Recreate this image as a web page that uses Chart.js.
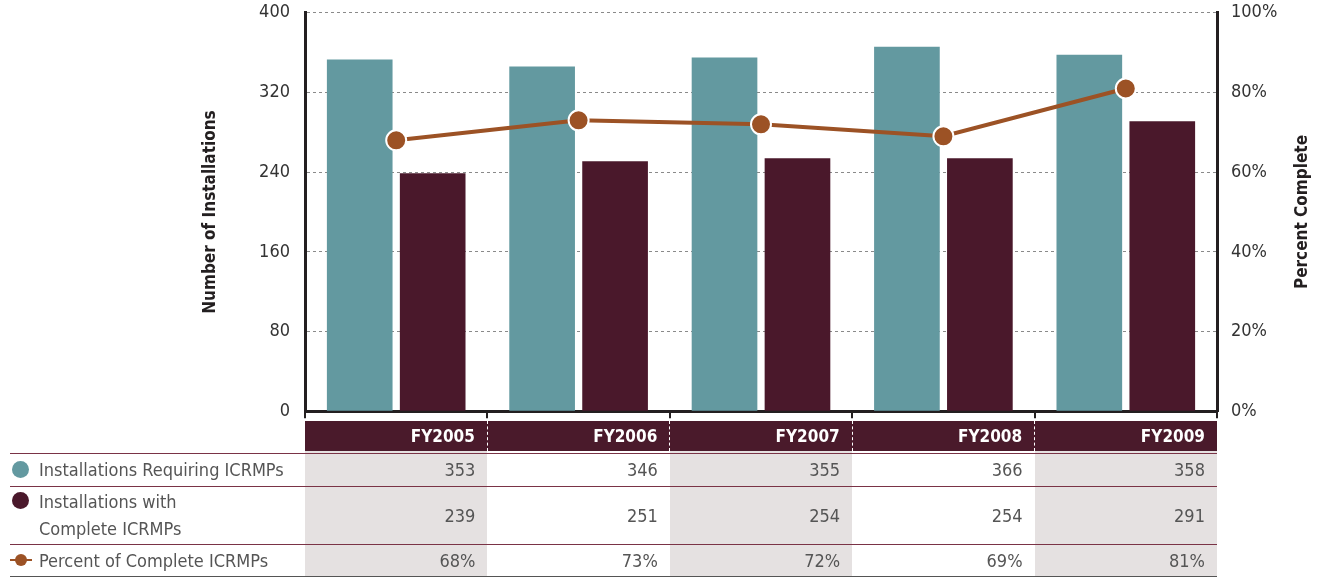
<!DOCTYPE html>
<html>
<head>
<meta charset="utf-8">
<script src="https://cdn.jsdelivr.net/npm/chart.js@4.4.1/dist/chart.umd.min.js"></script>
<style>
  body { margin: 0; background: #fff; overflow: hidden; }
  #wrap { position: relative; width: 1320px; height: 578px; overflow: hidden; font-family: "Liberation Sans Narrow", "DejaVu Sans Condensed", "Roboto", sans-serif; }
  #c { position: absolute; left: 0; top: -13px; }
  #tbl { position: absolute; left: 10px; top: 420px; border-collapse: collapse; table-layout: fixed; font-size: 18px; color: #555; }
  #tbl td, #tbl th { padding: 0 12px 0 0; text-align: right; box-sizing: border-box; }
  #tbl th { height: 30px; background: #4a1a2b; color: #fff; font-weight: bold; font-size: 17px; border-right: 1px dashed #fff; }
  #tbl th.blank { background: transparent; border-right: none; }
  #tbl th.last { border-right: none; }
  #tbl tr.r td { border-top: 1px solid #7a3346; }
  #tbl tr.sp td { height: 2px; }
  #tbl td.lab { text-align: left; padding: 0; }
  #tbl td.sh { background: #e5e1e1; }
  #tbl tr.last td { border-bottom: 1px solid #555; }
  .lab div { display: flex; align-items: center; }
  .dot { display: inline-block; width: 17px; height: 17px; border-radius: 50%; margin: 0 10px 0 2px; flex: none; }
  .ln { position: relative; display: inline-block; width: 22px; height: 14px; margin: 0 7px 0 0; flex: none; }
  .ln:before { content: ""; position: absolute; left: 0; right: 0; top: 6px; border-top: 2px dashed #9c5225; }
  .ln:after { content: ""; position: absolute; left: 5px; top: 1px; width: 12px; height: 12px; border-radius: 50%; background: #9c5225; }
</style>
</head>
<body>
<div id="wrap">
<canvas id="c" width="1320" height="450"></canvas>
<table id="tbl"></table>
</div>
<script>
var years = ["FY2005", "FY2006", "FY2007", "FY2008", "FY2009"];
var requiring = [353, 346, 355, 366, 358];
var complete = [239, 251, 254, 254, 291];
var percent = [68, 73, 72, 69, 81];

var labelRequiring = "Installations Requiring ICRMPs";
var labelComplete = ["Installations with", "Complete ICRMPs"];
var labelPercent = "Percent of Complete ICRMPs";

var teal = "#6399a0";
var maroon = "#4a182b";
var brown = "#9c5225";
var fontFam = '"Liberation Sans Narrow", "DejaVu Sans Condensed", Roboto, sans-serif';
var canvasShift = -13; // canvas is moved up so the plot top sits at y=12

// right axis title reads bottom-to-top, so draw it by hand
var rightTitle = {
  id: "rightTitle",
  afterDraw: function(chart) {
    var ctx = chart.ctx;
    var a = chart.chartArea;
    ctx.save();
    ctx.translate(1303, (a.top + a.bottom) / 2);
    ctx.rotate(-Math.PI / 2);
    ctx.font = "bold 17px " + fontFam;
    ctx.fillStyle = "#231f20";
    ctx.textAlign = "center";
    ctx.textBaseline = "middle";
    ctx.fillText("Percent Complete", 0, 0);
    ctx.restore();
  }
};

var canvas = document.getElementById("c");
var chart = new Chart(canvas, {
  type: "bar",
  data: {
    labels: years,
    datasets: [
      {
        type: "line",
        label: labelPercent,
        data: percent,
        yAxisID: "y1",
        borderColor: brown,
        borderWidth: 4,
        backgroundColor: brown,
        pointRadius: 10,
        pointBorderColor: "#fff",
        pointBorderWidth: 2,
        pointBackgroundColor: brown,
        tension: 0,
        fill: false,
        order: 0
      },
      {
        label: labelRequiring,
        data: requiring,
        backgroundColor: teal,
        categoryPercentage: 0.8,
        barPercentage: 0.9,
        order: 1
      },
      {
        label: labelComplete.join(" "),
        data: complete,
        backgroundColor: maroon,
        categoryPercentage: 0.8,
        barPercentage: 0.9,
        order: 1
      }
    ]
  },
  options: {
    responsive: false,
    animation: false,
    layout: { padding: { left: 0, right: 0, top: 0, bottom: 0 } },
    plugins: { legend: { display: false }, tooltip: { enabled: false } },
    scales: {
      x: {
        ticks: { display: false },
        grid: { offset: true, drawOnChartArea: false, drawTicks: true, tickLength: 7, color: "#231f20", lineWidth: 2 },
        border: { color: "#231f20", width: 3 },
        afterFit: function(s) { s.height = 10; }
      },
      y: {
        position: "left",
        min: 0,
        max: 400,
        ticks: { stepSize: 80, padding: 15, color: "#333", font: { family: fontFam, size: 18 } },
        grid: { color: "#8a8a8a", lineWidth: 1, drawTicks: false },
        border: { color: "#231f20", width: 3, dash: [3, 3] },
        title: {
          display: true,
          text: "Number of Installations",
          color: "#231f20",
          font: { family: fontFam, size: 17, weight: "bold" },
          padding: { top: 200, bottom: 0 }
        },
        afterFit: function(s) { s.width = 305; }
      },
      y1: {
        position: "right",
        min: 0,
        max: 100,
        ticks: { stepSize: 20, padding: 14, color: "#333", font: { family: fontFam, size: 18 },
          callback: function(v) { return v + "%"; } },
        grid: { drawOnChartArea: false, drawTicks: false },
        border: { color: "#231f20", width: 3 },
        afterFit: function(s) { s.width = 103; }
      }
    }
  },
  plugins: [rightTitle]
});

// data table under the chart, columns follow the x scale
function buildTable() {
  var area = chart.chartArea;
  var colW = (area.right - area.left) / years.length;
  var tbl = document.getElementById("tbl");
  tbl.style.top = (area.bottom + canvasShift + 10) + "px";
  var html = "<colgroup><col style='width:" + (area.left - 10) + "px'>";
  for (var i = 0; i < years.length; i++) html += "<col style='width:" + colW + "px'>";
  html += "</colgroup>";
  html += "<tr><th class='blank'></th>";
  for (var i = 0; i < years.length; i++) {
    html += "<th" + (i == years.length - 1 ? " class='last'" : "") + ">" + years[i] + "</th>";
  }
  html += "</tr><tr class='sp'><td></td>";
  for (var i = 0; i < years.length; i++) html += "<td" + (i % 2 == 0 ? " class='sh'" : "") + "></td>";
  html += "</tr>";

  function row(labelHtml, vals, suffix, h, cls) {
    var s = "<tr class='r " + (cls || "") + "' style='height:" + h + "px'><td class='lab'>" + labelHtml + "</td>";
    for (var i = 0; i < vals.length; i++) {
      s += "<td" + (i % 2 == 0 ? " class='sh'" : "") + ">" + vals[i] + suffix + "</td>";
    }
    return s + "</tr>";
  }
  html += row("<div><span class='dot' style='background:" + teal + "'></span>" + labelRequiring + "</div>", requiring, "", 33);
  html += row("<div style='align-items:flex-start'><span class='dot' style='background:" + maroon + ";margin-top:4px'></span><span style='line-height:27px'>" + labelComplete.join("<br>") + "</span></div>", complete, "", 58);
  html += row("<div><span class='ln'></span>" + labelPercent + "</div>", percent, "%", 32, "last");
  tbl.innerHTML = html;
}
buildTable();
</script>
</body>
</html>
